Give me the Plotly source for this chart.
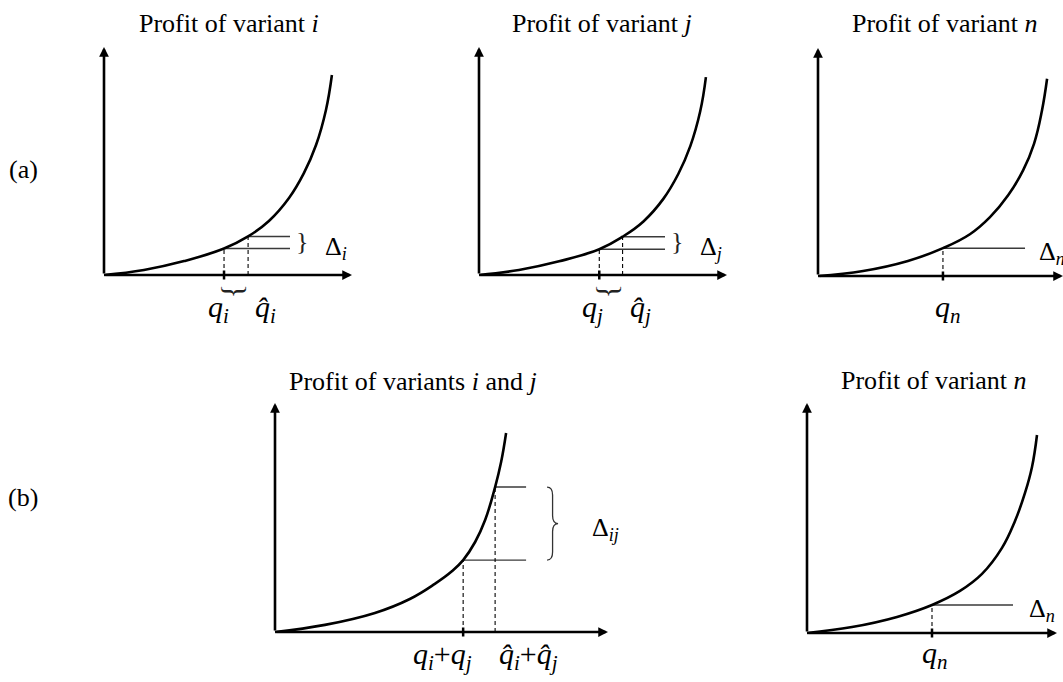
import plotly.graph_objects as go

FIG_W, FIG_H = 1063, 682
SERIF = "Liberation Serif"

# profit curves (quantity, profit); each axis arrow ends at 10
qty_i = [0, 1.61, 3.23, 4.84, 5.81, 6.65, 7.46, 8.06, 8.55, 8.95, 9.19]
profit_i = [0, 0.22, 0.61, 1.16, 1.69, 2.37, 3.38, 4.47, 5.70, 7.24, 8.77]
qty_j = [0, 1.61, 3.23, 4.85, 5.79, 6.63, 7.44, 8.04, 8.52, 8.92, 9.15]
profit_j = [0, 0.22, 0.60, 1.13, 1.68, 2.35, 3.35, 4.44, 5.65, 7.18, 8.68]
qty_n = [0, 1.84, 3.67, 5.10, 6.20, 7.02, 7.76, 8.37, 8.82, 9.14, 9.35]
profit_n = [0, 0.22, 0.66, 1.22, 1.83, 2.58, 3.54, 4.63, 5.81, 7.25, 8.65]
qty_ij = [0, 1.50, 3.00, 4.05, 4.80, 5.32, 5.65, 6.01, 6.31, 6.61, 6.79, 6.94]
profit_ij = [0, 0.31, 0.83, 1.44, 2.10, 2.66, 3.14, 3.93, 4.89, 6.33, 7.42, 8.69]
qty_n2 = [0, 1.80, 3.60, 5.00, 6.12, 7.00, 7.80, 8.32, 8.72, 9.00, 9.20]
profit_n2 = [0, 0.26, 0.70, 1.22, 1.83, 2.57, 3.70, 4.87, 6.09, 7.22, 8.61]

# marked quantities (q, q-hat) and the profit at them
marks_i, mark_profit_i = [4.84, 5.81], [1.16, 1.69]
marks_j, mark_profit_j = [4.85, 5.79], [1.13, 1.68]
marks_n, mark_profit_n = [5.10], [1.22]
marks_ij, mark_profit_ij = [5.65, 6.61], [3.14, 6.33]
marks_n2, mark_profit_n2 = [5.00], [1.22]
delta_line_end = [7.5, 7.5, 8.45, 7.54, 8.24]

titles = ["Profit of variant <i>i</i>", "Profit of variant <i>j</i>",
          "Profit of variant <i>n</i>", "Profit of variants <i>i</i> and <i>j</i>",
          "Profit of variant <i>n</i>"]
q_labels = [
    ["<i>q</i><sub><i>i</i></sub>", "<i>q\u0302</i><sub><i>i</i></sub>"],
    ["<i>q</i><sub><i>j</i></sub>", "<i>q\u0302</i><sub><i>j</i></sub>"],
    ["<i>q</i><sub><i>n</i></sub>"],
    ["<i>q</i><sub><i>i</i></sub>+<i>q</i><sub><i>j</i></sub>",
     "<i>q\u0302</i><sub><i>i</i></sub>+<i>q\u0302</i><sub><i>j</i></sub>"],
    ["<i>q</i><sub><i>n</i></sub>"],
]
delta_labels = ["\u0394<sub><i>i</i></sub>", "\u0394<sub><i>j</i></sub>",
                "\u0394<sub><i>n</i></sub>", "\u0394<sub><i>ij</i></sub>",
                "\u0394<sub><i>n</i></sub>"]

# layout of each panel: origin pixel, axis lengths, label tweaks
panels = [
    dict(qty=qty_i, profit=profit_i, marks=marks_i, mp=mark_profit_i,
         ox=104, oy=275, w=248, h=228, title_xy=(229, 24), qshift=[-6, 17],
         qy=-13, dx=33, brace="small", under=True),
    dict(qty=qty_j, profit=profit_j, marks=marks_j, mp=mark_profit_j,
         ox=479, oy=275, w=248, h=228, title_xy=(602, 24), qshift=[-7, 18],
         qy=-13, dx=33, brace="small", under=True),
    dict(qty=qty_n, profit=profit_n, marks=marks_n, mp=mark_profit_n,
         ox=818, oy=276, w=245, h=228, title_xy=(945, 24), qshift=[5],
         qy=-12, dx=12, brace=None, under=False),
    dict(qty=qty_ij, profit=profit_ij, marks=marks_ij, mp=mark_profit_ij,
         ox=275, oy=632, w=333, h=229, title_xy=(413, 382), qshift=[-21, 33],
         qy=-3, dx=64, brace="big", under=False),
    dict(qty=qty_n2, profit=profit_n2, marks=marks_n2, mp=mark_profit_n2,
         ox=807, oy=633, w=250, h=230, title_xy=(934, 381), qshift=[3],
         qy=-1, dx=14, brace=None, under=False),
]

fig = go.Figure()
annotations = []
shapes = []
layout_axes = {}

for k, p in enumerate(panels):
    n = "" if k == 0 else str(k + 1)
    xr, yr = "x" + n, "y" + n
    # axis range [-0.5, 10]; 0 sits on the origin pixel, 10 on the arrow tip
    layout_axes["xaxis" + n] = dict(
        domain=[(p["ox"] - 0.05 * p["w"]) / FIG_W, (p["ox"] + p["w"]) / FIG_W],
        range=[-0.5, 10], visible=False, anchor=yr, fixedrange=True)
    layout_axes["yaxis" + n] = dict(
        domain=[1 - (p["oy"] + 0.05 * p["h"]) / FIG_H, 1 - (p["oy"] - p["h"]) / FIG_H],
        range=[-0.5, 10], visible=False, anchor=xr, fixedrange=True)

    end = delta_line_end[k]
    tick = 4.5 / (p["h"] / 10)

    for m, (q, pr) in enumerate(zip(p["marks"], p["mp"])):
        fig.add_trace(go.Scatter(x=[q, q], y=[0, pr], mode="lines", xaxis=xr, yaxis=yr,
                                 line=dict(color="black", width=1.1, dash="4px,3px")))
        fig.add_trace(go.Scatter(x=[q, end], y=[pr, pr], mode="lines", xaxis=xr, yaxis=yr,
                                 line=dict(color="#3a3a3a", width=1.4)))
        if m == 0:
            fig.add_trace(go.Scatter(x=[q, q], y=[-tick, tick], mode="lines", xaxis=xr,
                                     yaxis=yr, line=dict(color="black", width=2.5)))
        annotations.append(dict(x=q, y=0, xref=xr, yref=yr, text=q_labels[k][m],
                                showarrow=False, xanchor="center", yanchor="top",
                                xshift=p["qshift"][m], yshift=p["qy"],
                                font=dict(family=SERIF, size=30, color="black")))

    fig.add_trace(go.Scatter(x=p["qty"], y=p["profit"], mode="lines", xaxis=xr, yaxis=yr,
                             line=dict(color="black", width=2.6, shape="spline",
                                       smoothing=1.2)))

    # axes with arrow heads
    for hx, hy in [(10, 0), (0, 10)]:
        annotations.append(dict(x=hx, y=hy, ax=0, ay=0, xref=xr, yref=yr, axref=xr,
                                ayref=yr, text="", showarrow=True, arrowhead=2,
                                arrowsize=0.75, arrowwidth=2.6, arrowcolor="black",
                                standoff=0, startstandoff=0))

    lo, hi = min(p["mp"]), max(p["mp"])
    annotations.append(dict(x=end, y=(lo + hi) / 2, xref=xr, yref=yr, text=delta_labels[k],
                            showarrow=False, xanchor="left", yanchor="middle",
                            xshift=p["dx"], yshift=-5,
                            font=dict(family=SERIF, size=26, color="black")))

    if p["brace"] == "small":
        annotations.append(dict(x=end, y=(lo + hi) / 2, xref=xr, yref=yr, text="}",
                                showarrow=False, xanchor="center", yanchor="middle",
                                xshift=12, yshift=1,
                                font=dict(family=SERIF, size=26, color="#222")))
    if p["under"]:
        annotations.append(dict(x=sum(p["marks"]) / 2, y=0, xref=xr, yref=yr, text="}",
                                showarrow=False, textangle=90, xanchor="center",
                                yanchor="middle", yshift=-16,
                                font=dict(family=SERIF, size=30, color="#222")))
    if p["brace"] == "big":
        ux = 10 / p["w"]
        x0 = end + 21 * ux
        xm, xt = x0 + 5.5 * ux, x0 + 11 * ux
        ym = (lo + hi) / 2
        r = 8 / (p["h"] / 10)
        path = (f"M{x0},{hi} Q{xm},{hi} {xm},{hi - r} L{xm},{ym + r} "
                f"Q{xm},{ym} {xt},{ym} Q{xm},{ym} {xm},{ym - r} "
                f"L{xm},{lo + r} Q{xm},{lo} {x0},{lo}")
        shapes.append(dict(type="path", path=path, xref=xr, yref=yr,
                           line=dict(color="#333", width=1.3)))

    tx, ty = p["title_xy"]
    annotations.append(dict(x=tx / FIG_W, y=1 - ty / FIG_H, xref="paper", yref="paper",
                            text=titles[k], showarrow=False, xanchor="center",
                            yanchor="middle",
                            font=dict(family=SERIF, size=26, color="black")))

for txt, py in [("(a)", 169), ("(b)", 497)]:
    annotations.append(dict(x=23 / FIG_W, y=1 - py / FIG_H, xref="paper", yref="paper",
                            text=txt, showarrow=False, xanchor="center", yanchor="middle",
                            font=dict(family=SERIF, size=26, color="black")))

fig.update_layout(
    width=FIG_W, height=FIG_H,
    margin=dict(l=0, r=0, t=0, b=0),
    paper_bgcolor="white", plot_bgcolor="white",
    showlegend=False,
    annotations=annotations, shapes=shapes,
    **layout_axes,
)

fig.write_html("out.html", config={"displayModeBar": False},
               post_script="document.body.style.margin = '0';")
